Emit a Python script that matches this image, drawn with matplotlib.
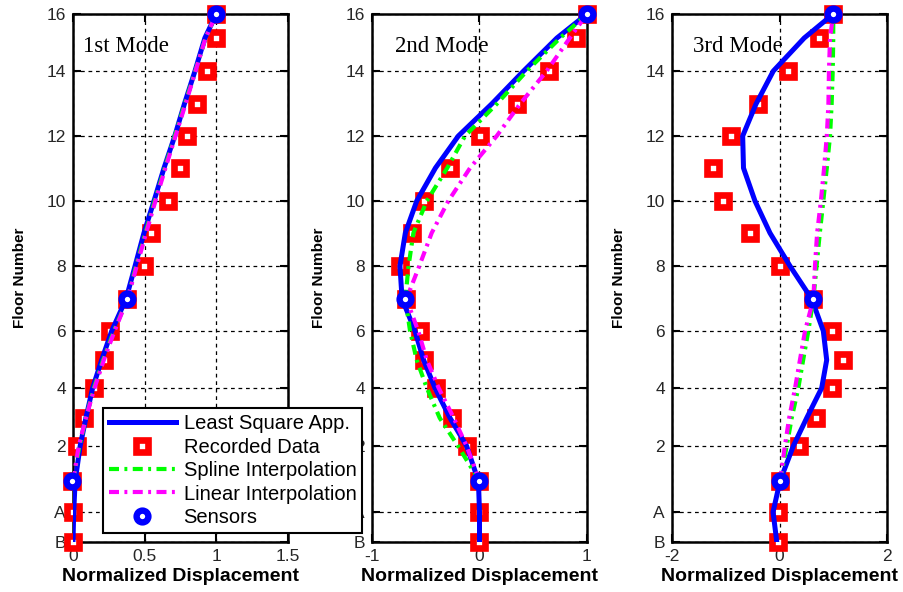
import matplotlib
matplotlib.use("Agg")
import matplotlib.pyplot as plt

# ---------------- data ----------------
level_labels = ['B', 'A', '1', '2', '3', '4', '5', '6', '7', '8', '9', '10',
                '11', '12', '13', '14', '15', '16']
elevation = [0.0, 3.0, 6.1, 9.6, 12.4, 15.4, 18.2, 21.1, 24.3, 27.6, 30.9,
             34.1, 37.4, 40.6, 43.8, 47.1, 50.4, 52.8]
tick_levels = ['B', 'A', '2', '4', '6', '8', '10', '12', '14', '16']
sensor_levels = ['1', '7', '16']
interp_levels = level_labels[2:]          # floors 1..16

mode_titles = ['1st Mode', '2nd Mode', '3rd Mode']
x_limits = [(0, 1.5), (-1, 1), (-2, 2)]
x_ticks = [[0, 0.5, 1, 1.5], [-1, 0, 1], [-2, 0, 2]]
x_ticklabels = [['0', '0.5', '1', '1.5'], ['-1', '0', '1'], ['-2', '0', '2']]

# recorded data (B..16)
rec_m1 = [0.0, 0.0, -0.01, 0.03, 0.077, 0.149, 0.218, 0.258, 0.375, 0.495,
          0.542, 0.661, 0.747, 0.793, 0.863, 0.937, 1.0, 1.0]
rec_m2 = [0.0, 0.0, 0.0, -0.12, -0.26, -0.40, -0.516, -0.553, -0.68, -0.74,
          -0.63, -0.516, -0.27, 0.005, 0.346, 0.65, 0.898, 1.0]
rec_m3 = [-0.02, -0.02, 0.01, 0.37, 0.68, 0.97, 1.19, 0.97, 0.63, 0.01,
          -0.55, -1.057, -1.243, -0.908, -0.394, 0.164, 0.74, 1.0]

# least-square approximation (B..16)
lsq_m1 = [0.0, 0.005, 0.015, 0.05, 0.09, 0.137, 0.2, 0.27, 0.37, 0.433,
          0.495, 0.565, 0.635, 0.71, 0.777, 0.851, 0.92, 1.0]
lsq_m2 = [0.0, 0.0, -0.01, -0.12, -0.274, -0.414, -0.52, -0.6, -0.72, -0.74,
          -0.69, -0.584, -0.41, -0.197, 0.113, 0.41, 0.72, 1.0]
lsq_m3 = [-0.05, -0.12, 0.01, 0.257, 0.506, 0.785, 0.878, 0.815, 0.6, 0.195,
          -0.177, -0.456, -0.67, -0.685, -0.437, -0.115, 0.46, 1.0]

# spline interpolation (floors 1..16)
spl_m1 = [0.0, 0.045, 0.09, 0.145, 0.21, 0.285, 0.38, 0.44, 0.505, 0.57,
          0.64, 0.71, 0.78, 0.853, 0.925, 1.0]
spl_m2 = [0.0, -0.2, -0.37, -0.49, -0.584, -0.646, -0.69, -0.66, -0.615,
          -0.49, -0.3, -0.135, 0.16, 0.44, 0.75, 1.0]
spl_m3 = [0.01, 0.134, 0.227, 0.35, 0.44, 0.536, 0.63, 0.69, 0.75, 0.815,
          0.88, 0.94, 0.97, 0.99, 1.0, 1.0]

# linear interpolation (floors 1..16)
lin_m1 = [0.0, 0.04, 0.09, 0.15, 0.215, 0.29, 0.38, 0.445, 0.51, 0.575,
          0.645, 0.715, 0.785, 0.855, 0.925, 1.0]
lin_m2 = [0.0, -0.12, -0.24, -0.38, -0.49, -0.57, -0.68, -0.56, -0.445,
          -0.29, -0.088, 0.16, 0.377, 0.625, 0.84, 1.0]
lin_m3 = [0.01, 0.1, 0.18, 0.29, 0.38, 0.475, 0.63, 0.66, 0.7, 0.77, 0.83,
          0.88, 0.91, 0.92, 0.94, 1.0]

# sensors (floors 1, 7, 16)
sen_m1 = [-0.01, 0.38, 1.0]
sen_m2 = [0.0, -0.69, 1.0]
sen_m3 = [0.0, 0.63, 1.0]

recorded = [rec_m1, rec_m2, rec_m3]
lsq = [lsq_m1, lsq_m2, lsq_m3]
spline = [spl_m1, spl_m2, spl_m3]
linear = [lin_m1, lin_m2, lin_m3]
sensors = [sen_m1, sen_m2, sen_m3]

# ---------------- drawing ----------------
plt.rcParams['font.family'] = ['Liberation Sans', 'DejaVu Sans']

elev_of = dict(zip(level_labels, elevation))
interp_elev = [elev_of[l] for l in interp_levels]
sensor_elev = [elev_of[l] for l in sensor_levels]
tick_elev = [elev_of[l] for l in tick_levels]

W, H = 904, 592
fig = plt.figure(figsize=(W / 100, H / 100), dpi=100)

ax_left_px = [73, 372, 672]
ax_w_px = 215
ax_top_px, ax_bot_px = 14, 542
title_x = [0.047, 0.107, 0.098]

dashdot = (0, (2.4, 1.3, 0.7, 1.3))
handles = None
for i in range(3):
    ax = fig.add_axes([ax_left_px[i] / W, (H - ax_bot_px) / H,
                       ax_w_px / W, (ax_bot_px - ax_top_px) / H])
    h_rec, = ax.plot(recorded[i], elevation, linestyle='none', marker='s',
                     markersize=8.5, markeredgewidth=4.8, markeredgecolor='#ff0000',
                     markerfacecolor='white', clip_on=False, zorder=3)
    h_lsq, = ax.plot(lsq[i], elevation, color='#0000ff', lw=3.6,
                     solid_joinstyle='round', zorder=4)
    h_spl, = ax.plot(spline[i], interp_elev, color='#00ff00', lw=3.0,
                     linestyle=dashdot, dash_capstyle='butt', zorder=5)
    h_lin, = ax.plot(linear[i], interp_elev, color='#ff00ff', lw=3.0,
                     linestyle=dashdot, dash_capstyle='butt', zorder=6)
    h_sen, = ax.plot(sensors[i], sensor_elev, linestyle='none', marker='o',
                     markersize=8.5, markeredgewidth=4.6, markeredgecolor='#0000ff',
                     markerfacecolor='white', clip_on=False, zorder=7)
    if i == 0:
        handles = [h_lsq, h_rec, h_spl, h_lin, h_sen]

    ax.set_xlim(*x_limits[i])
    ax.set_ylim(elevation[0], elevation[-1])
    ax.set_xticks(x_ticks[i])
    ax.set_xticklabels(x_ticklabels[i])
    ax.set_yticks(tick_elev)
    ax.set_yticklabels(tick_levels)
    ax.tick_params(direction='in', length=6, width=1.5, top=True, right=True,
                   labelsize=12.5, labelcolor='#262626', pad=5)
    for s in ax.spines.values():
        s.set_linewidth(1.8)
    ax.grid(True, color='black', linestyle=(0, (3, 3)), linewidth=0.9)
    ax.set_axisbelow(True)
    ax.set_xlabel('Normalized Displacement', fontsize=14, fontweight='bold',
                  labelpad=3)
    ax.set_ylabel('Floor Number', fontsize=11, fontweight='bold', labelpad=14)
    ax.text(title_x[i], 0.938, mode_titles[i], transform=ax.transAxes,
            family=['Liberation Serif', 'DejaVu Serif'], fontsize=16.5,
            ha='left', va='center', zorder=8)

leg = fig.legend(handles,
                 ['Least Square App.', 'Recorded Data', 'Spline Interpolation',
                  'Linear Interpolation', 'Sensors'],
                 loc='lower left', bbox_to_anchor=(103 / W, (H - 533) / H),
                 borderaxespad=0, fontsize=14.5, handlelength=3.3,
                 handletextpad=0.4, labelspacing=0.22, borderpad=0.3,
                 fancybox=False, edgecolor='black', framealpha=1)
leg.get_frame().set_linewidth(1.5)

fig.savefig('out.png', dpi=100)
